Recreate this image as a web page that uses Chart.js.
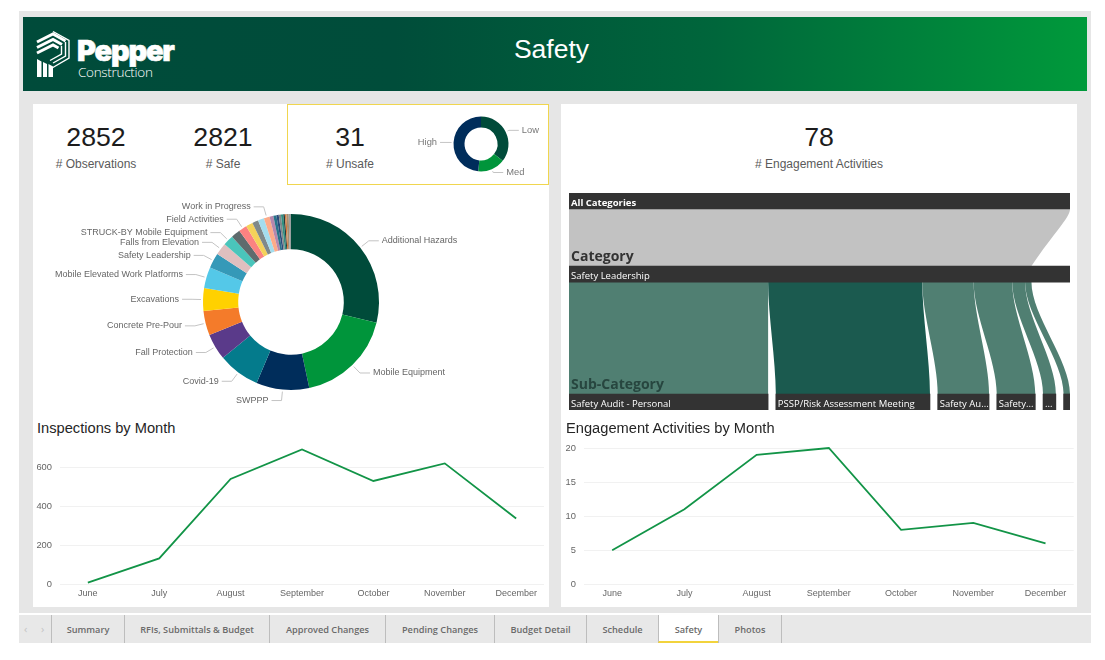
<!DOCTYPE html>
<html>
<head>
<meta charset="utf-8">
<title>Safety</title>
<script src="https://cdn.jsdelivr.net/npm/chart.js@4/dist/chart.umd.js"></script>
<style>
  html, body { margin: 0; padding: 0; background: #fff; width: 1105px; height: 660px; overflow: hidden; }
  body { position: relative; font-family: "Liberation Sans", Arial, sans-serif; }
  .abs { position: absolute; }
  canvas { position: absolute; display: block; }
  #frame { left: 19px; top: 11px; width: 1072px; height: 602px; background: #e6e6e6; }
  #header { left: 23px; top: 17px; width: 1064px; height: 74px;
    background: linear-gradient(90deg, #004b3a 0%, #004d3a 35%, #00663b 65%, #00873b 88%, #009a3b 100%); }
  #title { left: 23px; top: 31px; width: 1057px; text-align: center; color: #fff; font-size: 26.5px; line-height: 36px; }
  #pepper { left: 77px; top: 33px; color: #fff; font: 900 29px/36px Inter, sans-serif; letter-spacing: -1.2px; -webkit-text-stroke: 0.6px #fff; }
  #construction { left: 78px; top: 63px; color: #fff; font: 300 13.5px/18px "Open Sans", sans-serif; letter-spacing: -0.3px; }
  .card { background: #fff; top: 104px; width: 516px; height: 503px; }
  #unsafeBox { left: 287px; top: 104px; width: 260px; height: 79px; border: 1px solid #f0d64f; }
  .kpi { width: 120px; text-align: center; top: 121px; font-size: 26.7px; line-height: 32px; color: #1c1c1c; }
  .kpiLabel { width: 200px; text-align: center; top: 157px; font-size: 12px; line-height: 15px; color: #5a5a5a; }
  .cardTitle { top: 419px; font-size: 14.67px; line-height: 18px; color: #252525; }
  .levelName { left: 571px; font: 700 14px/18px "Open Sans", sans-serif; }
  #tabs { left: 19px; top: 615px; width: 1072px; height: 28px; background: #e8e8e8; }
  .tab { top: 615px; height: 28px; border-left: 1px solid #bdbdbd; box-sizing: border-box; text-align: center;
    font: 600 9.2px/30px "Open Sans", sans-serif; color: #6a6a6a; }
  .tab.on { background: #fff; border-bottom: 2px solid #f2d33c; }
  .arrow { top: 615px; font: 400 11px/28px "Open Sans", sans-serif; color: #c4c4c4; }
</style>
</head>
<body>
<div class="abs" id="frame"></div>
<div class="abs" id="header"></div>
<svg class="abs" style="left:0;top:0" width="200" height="90" fill="none" stroke="#fff">
  <path d="M53 31.5 L69 40.5 V58 L52 68" stroke-width="1.4"/>
  <path d="M37 42 L53 34 L65.5 41" stroke-width="3"/>
  <path d="M37 47.5 L53 39.5 L62 44.5" stroke-width="3"/>
  <path d="M37 53 L53 45 L58.5 48" stroke-width="3"/>
  <path d="M65.5 42 V56 L53 63" stroke-width="1.4"/>
  <path d="M61.5 46 V54 L50 60.5" stroke-width="1.4"/>
  <path d="M37 59 L41.5 61.5 V77 H37 Z M43 62 L47 64 V77 H43 Z M48.5 64 L53 66.5 V77 H48.5 Z" fill="#fff" stroke="none"/>
</svg>
<div class="abs" id="pepper">Pepper</div>
<div class="abs" id="construction">Construction</div>
<div class="abs" id="title">Safety</div>

<div class="abs card" style="left:33px"></div>
<div class="abs card" style="left:561px"></div>
<div class="abs" id="unsafeBox"></div>

<div class="abs kpi" style="left:36px">2852</div>
<div class="abs kpiLabel" style="left:-4px"># Observations</div>
<div class="abs kpi" style="left:163px">2821</div>
<div class="abs kpiLabel" style="left:123px"># Safe</div>
<div class="abs kpi" style="left:290px">31</div>
<div class="abs kpiLabel" style="left:250px"># Unsafe</div>
<div class="abs kpi" style="left:759px">78</div>
<div class="abs kpiLabel" style="left:719px"># Engagement Activities</div>

<canvas id="severityChart" width="134" height="78" style="left:414px;top:105px"></canvas>
<canvas id="categoryChart" width="516" height="224" style="left:33px;top:190px"></canvas>
<canvas id="flowChart" width="501" height="217" style="left:569px;top:193px"></canvas>
<div class="abs levelName" style="top:247px;color:#333">Category</div>
<div class="abs levelName" style="top:375px;color:#27463f">Sub-Category</div>

<div class="abs cardTitle" style="left:37px">Inspections by Month</div>
<div class="abs cardTitle" style="left:566px">Engagement Activities by Month</div>
<canvas id="inspectionsChart" width="516" height="167" style="left:33px;top:440px"></canvas>
<canvas id="engagementChart" width="516" height="167" style="left:561px;top:440px"></canvas>

<div class="abs" id="tabs"></div>
<div class="abs arrow" style="left:24px">‹</div>
<div class="abs arrow" style="left:41px">›</div>
<div id="tabRow"></div>

<script>
const months = ['June', 'July', 'August', 'September', 'October', 'November', 'December'];
const inspections = [9, 133, 540, 692, 530, 620, 337];
const engagements = [5, 11, 19, 20, 8, 9, 6];

const severityLabels = ['Low', 'Med', 'High'];
const severityCounts = [11, 5, 15];
const severityColors = ['#004b3a', '#00953b', '#002d5b'];

const categoryLabels = ['Additional Hazards', 'Mobile Equipment', 'SWPPP', 'Covid-19', 'Fall Protection',
    'Concrete Pre-Pour', 'Excavations', 'Mobile Elevated Work Platforms', 'Safety Leadership',
    'Falls from Elevation', 'STRUCK-BY Mobile Equipment', '', 'Field Activities', '', '', '',
    'Work in Progress', '', '', '', '', '', '', '', '', ''];
const categoryCounts = [821, 510, 277, 219, 138, 127, 119, 111, 79, 63, 55,
    48, 43, 36, 32, 32, 30, 20, 16, 12, 12, 12, 8, 8, 12, 12];
const categoryColors = ['#004b3a', '#00953b', '#002d5b', '#047b8c', '#5a3a8a', '#f47b2a', '#ffd100', '#54c8e8',
    '#3599b8', '#dfbfbf', '#4ac5bb', '#5f6b6d', '#fb8281', '#f4d25a', '#7f898a', '#a4ddee',
    '#fdab89', '#b687ac', '#28738a', '#2a4a7a', '#7f898a', '#2f8f80', '#1f3f3f', '#d9763a', '#a78f6f', '#9aa0a0'];

const allLabel = 'All Categories';
const categoryName = 'Safety Leadership';
const engagementTotal = 78;
const subLabels = ['Safety Audit - Personal', 'PSSP/Risk Assessment Meeting', 'Safety Au...', 'Safety...', '...', ''];
const subCounts = [31, 24, 8, 6, 2, 1];
const subColors = ['#507f72', '#1b5a4f', '#507f72', '#507f72', '#507f72', '#507f72'];
const levelDepths = [0, 4, 11];

const tabNames = ['Summary', 'RFIs, Submittals & Budget', 'Approved Changes', 'Pending Changes', 'Budget Detail', 'Schedule', 'Safety', 'Photos'];
const tabEdges = [51, 124, 269, 385, 494, 586, 658, 718, 781];

const LINE_GREEN = '#129447';
const SANS = '"Liberation Sans", Arial, sans-serif';
const SEGOE = '"Open Sans", sans-serif';

// leader lines and names beside the donut slices
const calloutPlugin = {
    id: 'callouts',
    afterDraw(chart, args, opts) {
        const ctx = chart.ctx;
        const arcs = chart.getDatasetMeta(0).data;
        ctx.save();
        ctx.font = opts.font;
        ctx.textBaseline = 'middle';
        arcs.forEach((arc, i) => {
            const name = chart.data.labels[i];
            if (!name) return;
            const mid = (arc.startAngle + arc.endAngle) / 2;
            const cos = Math.cos(mid), sin = Math.sin(mid);
            const side = cos >= 0 ? 1 : -1;
            const elbowX = arc.x + cos * (arc.outerRadius + opts.reach);
            const elbowY = arc.y + sin * (arc.outerRadius + opts.reach);
            const endX = elbowX + side * opts.tail;
            ctx.strokeStyle = '#c4c4c4';
            ctx.lineWidth = 1;
            ctx.beginPath();
            ctx.moveTo(arc.x + cos * (arc.outerRadius + 2), arc.y + sin * (arc.outerRadius + 2));
            ctx.lineTo(elbowX, elbowY);
            ctx.lineTo(endX, elbowY);
            ctx.stroke();
            ctx.fillStyle = opts.color;
            ctx.textAlign = side > 0 ? 'left' : 'right';
            ctx.fillText(name, endX + side * 3, elbowY);
        });
        ctx.restore();
    }
};

function donut(id, labels, values, colors, padding, callouts) {
    new Chart(document.getElementById(id), {
        type: 'doughnut',
        data: {
            labels: labels,
            datasets: [{ data: values, backgroundColor: colors, borderWidth: 0 }]
        },
        options: {
            responsive: false,
            animation: false,
            cutout: '60%',
            layout: { padding: padding },
            plugins: {
                legend: { display: false },
                tooltip: { enabled: false },
                callouts: callouts
            }
        },
        plugins: [calloutPlugin]
    });
}

donut('severityChart', severityLabels, severityCounts, severityColors, 11.5,
    { reach: 3.5, tail: 10, font: '9.33px ' + SANS, color: '#777' });
donut('categoryChart', categoryLabels, categoryCounts, categoryColors, 24,
    { reach: 11, tail: 10, font: '9px ' + SANS, color: '#666' });

function monthLine(id, values, yMax, yStep, plotTop, plotLeft, plotRight) {
    new Chart(document.getElementById(id), {
        type: 'line',
        data: {
            datasets: [{
                data: values.map((v, i) => ({ x: i, y: v })),
                borderColor: LINE_GREEN,
                borderWidth: 1.8,
                pointRadius: 0,
                fill: false,
                tension: 0,
                clip: false
            }]
        },
        options: {
            responsive: false,
            animation: false,
            layout: { padding: { top: plotTop, right: 516 - plotRight, left: 0, bottom: 0 } },
            scales: {
                x: {
                    type: 'linear',
                    min: -0.39,
                    max: months.length - 1 + 0.39,
                    afterBuildTicks: s => { s.ticks = months.map((m, i) => ({ value: i })); },
                    afterFit: s => { s.height = 22.7; s.paddingLeft = 0; s.paddingRight = 0; },
                    grid: { display: false, drawTicks: false },
                    border: { display: false },
                    ticks: {
                        callback: v => months[v],
                        autoSkip: false,
                        maxRotation: 0,
                        padding: 4,
                        color: '#666',
                        font: { family: SANS, size: 9 }
                    }
                },
                y: {
                    min: 0,
                    max: yMax,
                    afterFit: s => { s.width = plotLeft; s.paddingTop = 0; s.paddingBottom = 0; },
                    grid: { color: '#f1f1f1', drawTicks: false },
                    border: { display: false },
                    ticks: {
                        stepSize: yStep,
                        includeBounds: false,
                        padding: 8,
                        color: '#666',
                        font: { family: SANS, size: 9.33 }
                    }
                }
            },
            plugins: { legend: { display: false }, tooltip: { enabled: false } }
        }
    });
}

monthLine('inspectionsChart', inspections, 700, 200, 7.8, 27, 511);
monthLine('engagementChart', engagements, 20, 5, 8, 23, 512.7);

// bars for the three levels plus the ribbons that join them
const subTotal = subCounts.reduce((a, b) => a + b, 0);
const subGap = (engagementTotal - subTotal) / (subCounts.length - 1);
const topSpans = [];
const bottomSpans = [];
let topAt = 0, bottomAt = 0;
subCounts.forEach(c => {
    topSpans.push([topAt, topAt + c]);
    bottomSpans.push([bottomAt, bottomAt + c]);
    topAt += c;
    bottomAt += c + subGap;
});

const BAND = 16;
const bandRows = [
    { x: [0, engagementTotal], y: levelDepths[0], label: allLabel, bold: true },
    { x: [0, engagementTotal], y: levelDepths[1], label: categoryName },
    ...bottomSpans.map((s, i) => ({ x: s, y: levelDepths[2], label: subLabels[i] }))
];

function ribbon(ctx, scales, top, bottom, depthFrom, depthTo, color, shape) {
    const x = scales.x, y = scales.y;
    const y0 = y.getPixelForValue(depthFrom) + BAND / 2;
    const y1 = y.getPixelForValue(depthTo) - BAND / 2;
    const h = y1 - y0;
    const a0 = x.getPixelForValue(top[0]), a1 = x.getPixelForValue(top[1]);
    const b0 = x.getPixelForValue(bottom[0]), b1 = x.getPixelForValue(bottom[1]);
    const c1y = y0 + h * shape.c1, c2y = y1 - h * shape.c2;
    const lean = (a, b) => b + (a - b) * shape.lean;
    ctx.fillStyle = color;
    ctx.beginPath();
    ctx.moveTo(a0, y0);
    ctx.lineTo(a1, y0);
    ctx.bezierCurveTo(a1, c1y, lean(a1, b1), c2y, b1, y1);
    ctx.lineTo(b0, y1);
    ctx.bezierCurveTo(lean(a0, b0), c2y, a0, c1y, a0, y0);
    ctx.closePath();
    ctx.fill();
}

const flowPlugin = {
    id: 'flow',
    beforeDatasetsDraw(chart) {
        const ctx = chart.ctx;
        ctx.save();
        ribbon(ctx, chart.scales, [0, engagementTotal], [0, subTotal], levelDepths[0], levelDepths[1], '#c2c2c2',
            { c1: 0.15, c2: 0.6, lean: 0.6 });
        topSpans.forEach((s, i) => {
            ribbon(ctx, chart.scales, s, bottomSpans[i], levelDepths[1], levelDepths[2], subColors[i],
                { c1: 0.3, c2: 0.3, lean: 0 });
        });
        ctx.restore();
    },
    afterDatasetsDraw(chart) {
        const ctx = chart.ctx;
        ctx.save();
        ctx.textBaseline = 'middle';
        ctx.fillStyle = '#fff';
        bandRows.forEach(row => {
            if (!row.label) return;
            ctx.font = (row.bold ? '700 ' : '') + '9.5px ' + SEGOE;
            ctx.fillText(row.label, chart.scales.x.getPixelForValue(row.x[0]) + 2, chart.scales.y.getPixelForValue(row.y) + 2);
        });
        ctx.restore();
    }
};

new Chart(document.getElementById('flowChart'), {
    type: 'bar',
    data: {
        datasets: [{
            data: bandRows.map(r => ({ x: r.x, y: r.y })),
            backgroundColor: '#333333',
            borderWidth: 0,
            barThickness: BAND
        }]
    },
    options: {
        indexAxis: 'y',
        responsive: false,
        animation: false,
        layout: { padding: 0 },
        scales: {
            x: { type: 'linear', min: 0, max: engagementTotal, display: false, offset: false },
            y: { type: 'linear', min: -0.438, max: 11.438, reverse: true, display: false, offset: false }
        },
        plugins: { legend: { display: false }, tooltip: { enabled: false } }
    },
    plugins: [flowPlugin]
});

// page tabs along the bottom
const tabRow = document.getElementById('tabRow');
tabNames.forEach((name, i) => {
    const el = document.createElement('div');
    el.className = 'abs tab' + (name === 'Safety' ? ' on' : '');
    el.style.left = tabEdges[i] + 'px';
    el.style.width = (tabEdges[i + 1] - tabEdges[i]) + 'px';
    el.textContent = name;
    tabRow.appendChild(el);
});
const lastEdge = document.createElement('div');
lastEdge.className = 'abs tab';
lastEdge.style.left = tabEdges[tabEdges.length - 1] + 'px';
lastEdge.style.width = '1px';
tabRow.appendChild(lastEdge);
</script>
</body>
</html>
